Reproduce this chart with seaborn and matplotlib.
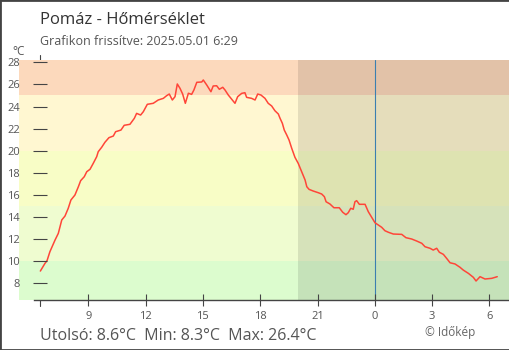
import matplotlib
matplotlib.use("Agg")
import matplotlib.pyplot as plt
from matplotlib.patches import Rectangle
import seaborn as sns
import pandas as pd

# ---- data (hours since previous midnight, temperature in °C) ----
hours = [6.49, 6.73, 6.84, 6.99, 7.26, 7.43, 7.61, 7.78, 7.95, 8.09, 8.30, 8.48, 8.60,
         8.79, 8.92, 9.09, 9.26, 9.44, 9.52, 9.70, 9.87, 10.08, 10.31, 10.43, 10.71,
         10.88, 11.18, 11.41, 11.53, 11.74, 11.88, 12.09, 12.40, 12.66, 12.93, 13.10,
         13.24, 13.40, 13.54, 13.66, 13.80, 13.94, 14.08, 14.24, 14.41, 14.53, 14.68,
         14.94, 15.02, 15.20, 15.42, 15.54, 15.72, 15.86, 16.04, 16.16, 16.33, 16.68,
         16.82, 17.03, 17.20, 17.29, 17.55, 17.73, 17.87, 18.04, 18.25, 18.42, 18.60,
         18.77, 18.95, 19.04, 19.16, 19.26, 19.39, 19.51, 19.65, 19.82, 19.99, 20.17,
         20.35, 20.44, 20.56, 20.78, 21.04, 21.22, 21.36, 21.45, 21.65, 21.86, 22.14,
         22.32, 22.49, 22.61, 22.74, 22.87, 22.96, 23.05, 23.19, 23.49, 23.66, 23.84,
         24.01, 24.18, 24.36, 24.53, 24.71, 24.97, 25.41, 25.63, 25.93, 26.19, 26.46,
         26.63, 26.89, 27.06, 27.24, 27.38, 27.59, 27.76, 27.94, 28.20, 28.46, 28.63,
         28.90, 29.16, 29.30, 29.51, 29.77, 30.12, 30.41]
temps = [9.11, 9.80, 10.05, 10.86, 11.92, 12.52, 13.73, 14.09, 14.79, 15.54, 15.99, 16.74, 17.29,
         17.65, 18.10, 18.32, 18.86, 19.46, 19.91, 20.31, 20.76, 21.18, 21.33, 21.72, 21.87,
         22.30, 22.39, 22.93, 23.38, 23.23, 23.53, 24.20, 24.29, 24.59, 24.74, 24.98,
         25.13, 24.59, 24.89, 26.04, 25.65, 25.13, 24.29, 25.20, 25.10, 25.50, 26.19,
         26.22, 26.40, 25.95, 25.34, 25.86, 25.88, 25.56, 25.74, 25.49, 25.04, 24.29,
         24.89, 25.19, 25.25, 24.83, 24.74, 24.59, 25.13, 25.04, 24.74, 24.29, 24.05,
         23.62, 23.32, 22.93, 22.48, 21.87, 21.42, 20.97, 20.22, 19.40, 18.86, 18.10,
         17.35, 16.74, 16.50, 16.35, 16.20, 16.08, 15.84, 15.38, 15.18, 14.84, 14.84,
         14.43, 14.21, 14.39, 14.79, 14.70, 15.38, 15.48, 15.15, 15.15, 14.48, 13.97,
         13.48, 13.28, 13.07, 12.76, 12.62, 12.46, 12.43, 12.13, 12.01, 11.83, 11.62,
         11.31, 11.17, 11.01, 11.17, 10.81, 10.62, 10.26, 9.86, 9.75, 9.45, 9.20,
         8.90, 8.54, 8.21, 8.60, 8.39, 8.45, 8.60]

x_ticks = [9, 12, 15, 18, 21, 24, 27, 30]
x_tick_labels = ["9", "12", "15", "18", "21", "0", "3", "6"]
y_ticks = [8, 10, 12, 14, 16, 18, 20, 22, 24, 26, 28]
band_edges = [6.49, 10, 15, 20, 25, 28.21]
band_colors = ["#dcfcce", "#effcd0", "#f8fdc6", "#fff7d1", "#fcd9bc"]

title = "Pomáz - Hőmérséklet"
subtitle = "Grafikon frissítve: 2025.05.01 6:29"
summary = "Utolsó: 8.6°C  Min: 8.3°C  Max: 26.4°C"
credit = "© Időkép"

df = pd.DataFrame({"hour": hours, "temp": temps})

sns.set_style("white")
plt.rcParams["font.family"] = ["Open Sans", "DejaVu Sans"]

fig = plt.figure(figsize=(5.1, 3.5), dpi=100)
ax = fig.add_axes([19 / 510, 50 / 350, 490 / 510, 240 / 350])
ax.set_axisbelow(False)
x0, x1 = 5.372, 31.026
ax.set_xlim(x0, x1)
ax.set_ylim(band_edges[0], band_edges[-1])

for lo, hi, c in zip(band_edges[:-1], band_edges[1:], band_colors):
    ax.axhspan(lo, hi, color=c, lw=0, zorder=1)
ax.axvspan(20.0, x1, color="black", alpha=0.1, lw=0, zorder=1.1)

# y axis line hidden behind bands
ax.plot([6.48, 6.48], [5.95, 28.66], color="#444", lw=0.8, clip_on=False, zorder=0.5)
ax.axvline(24, color="#3b7fb0", lw=0.8, zorder=1.8)

sns.lineplot(data=df, x="hour", y="temp", ax=ax, color="#ff4538", lw=1.1, zorder=2)

for s in ["top", "right", "left"]:
    ax.spines[s].set_visible(False)
ax.spines["left"].set_position(("data", 6.48))
ax.spines["bottom"].set_bounds(6.16, x1)
ax.spines["bottom"].set_color("#444")
ax.spines["bottom"].set_linewidth(1.0)

ax.set_xticks(x_ticks)
ax.set_xticklabels(x_tick_labels)
ax.set_yticks(y_ticks)
ax.set_yticklabels([str(v) for v in y_ticks])
ax.tick_params(axis="x", bottom=True, direction="inout", length=8.6, width=0.8, color="#444",
               pad=3.6, labelsize=8, labelcolor="#555")
ax.tick_params(axis="y", left=True, direction="inout", length=9.4, width=0.8, color="#444",
               pad=10.0, labelsize=8, labelcolor="#555")
ax.set_xlabel("")
ax.set_ylabel("")

fig.text(40 / 510, 1 - 24 / 350, title, fontsize=12, color="#333", va="baseline")
fig.text(40 / 510, 1 - 45 / 350, subtitle, fontsize=9, color="#555", va="baseline")
fig.text(12 / 510, 1 - 55 / 350, "°C", fontsize=8.5, color="#555", va="baseline")
fig.text(40 / 510, 1 - 340 / 350, summary, fontsize=11.5, color="#555", va="baseline")
fig.text(425 / 510, 1 - 336 / 350, credit, fontsize=8.5, color="#666", va="baseline")

fig.patches.append(Rectangle((0, 0), 1, 1, transform=fig.transFigure, fill=False,
                             edgecolor="#444", lw=2))

fig.savefig("out.png", dpi=100)
